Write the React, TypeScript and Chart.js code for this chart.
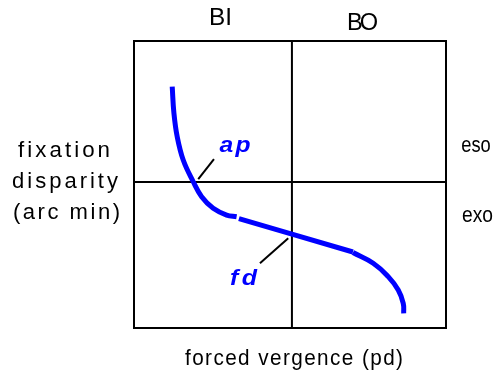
import React, { useEffect, useRef } from "react";
import { Chart, registerables } from "chart.js";

Chart.register(...registerables);

// Fixation disparity curve, forced vergence (pd) vs fixation disparity (arc min)
// Upper (BI) limb of the curve
const vergenceUpper = [-15.54, -15.32, -14.89, -14.11, -12.81, -11.72, -10.22, -8.48, -7.18];
const disparityUpper = [6.76, 4.9, 3.21, 1.56, 0.02, -1.04, -1.86, -2.34, -2.46];
// Central linear section
const vergenceMiddle = [-6.88, 0, 7.92];
const disparityMiddle = [-2.59, -3.69, -4.96];
// Lower (BO) limb of the curve
const vergenceLower = [7.92, 10.55, 12.5, 13.8, 14.45, 14.51];
const disparityLower = [-5.0, -5.76, -6.71, -7.66, -8.6, -9.31];

// Pointer lines for the annotations
const apPointerX = [-12.16, -10.12];
const apPointerY = [0.21, 1.63];
const fdPointerX = [-0.48, -4.15];
const fdPointerY = [-3.99, -5.76];

const prismLabels = ["BI", "BO"];
const disparityLabels = ["eso", "exo"];
const yTitle = ["fixation", "disparity", "(arc min)"];
const xTitle = "forced vergence (pd)";
const curveLabels = ["ap", "fd"];

const BLUE = "#0000ff";
const FONT = '"Liberation Sans", Arial, Helvetica, sans-serif';

const pts = (xs: number[], ys: number[]) => xs.map((x, i) => ({ x, y: ys[i] }));

type TextOpts = { bold?: boolean; italic?: boolean; color?: string; spacing?: number };

function drawText(
  ctx: CanvasRenderingContext2D,
  text: string,
  cx: number,
  baseline: number,
  size: number,
  width: number,
  opts: TextOpts = {}
) {
  const { bold = false, italic = false, color = "#000", spacing = 0 } = opts;
  ctx.save();
  ctx.font = `${italic ? "italic " : ""}${bold ? "bold " : ""}${size}px ${FONT}`;
  (ctx as any).letterSpacing = `${spacing}px`;
  const natural = ctx.measureText(text).width - spacing;
  const sx = natural > 0 ? width / natural : 1;
  ctx.translate(cx - width / 2, baseline);
  ctx.scale(sx, 1);
  ctx.textAlign = "left";
  ctx.textBaseline = "alphabetic";
  ctx.fillStyle = color;
  ctx.fillText(text, 0, 0);
  ctx.restore();
}

// Outer frame plus the two zero lines splitting the plot into quadrants
const quadrantFrame = {
  id: "quadrantFrame",
  beforeDatasetsDraw(chart: any) {
    const { ctx, chartArea: a, scales } = chart;
    const x0 = scales.x.getPixelForValue(0);
    const y0 = scales.y.getPixelForValue(0);
    ctx.save();
    ctx.strokeStyle = "#000";
    ctx.lineWidth = 2;
    ctx.strokeRect(a.left, a.top, a.right - a.left, a.bottom - a.top);
    ctx.beginPath();
    ctx.moveTo(x0, a.top);
    ctx.lineTo(x0, a.bottom);
    ctx.moveTo(a.left, y0);
    ctx.lineTo(a.right, y0);
    ctx.stroke();
    ctx.restore();
  },
};

// Axis captions and curve annotations
const captions = {
  id: "captions",
  afterDraw(chart: any) {
    const ctx: CanvasRenderingContext2D = chart.ctx;
    drawText(ctx, prismLabels[0], 220.5, 25, 23, 23);
    drawText(ctx, prismLabels[1], 362.5, 30, 23, 31, { spacing: -3 });
    drawText(ctx, yTitle[0], 64, 157, 22, 92, { spacing: 3 });
    drawText(ctx, yTitle[1], 65, 188, 22, 106, { spacing: 3 });
    drawText(ctx, yTitle[2], 66.5, 219, 22, 107, { spacing: 2.5 });
    drawText(ctx, disparityLabels[0], 476, 152, 22, 29.5);
    drawText(ctx, disparityLabels[1], 477.5, 222, 22, 31);
    drawText(ctx, xTitle, 294, 365, 22, 218, { spacing: 1.5 });
    drawText(ctx, curveLabels[0], 235, 152, 22, 31, { bold: true, italic: true, color: BLUE, spacing: 2 });
    drawText(ctx, curveLabels[1], 243.5, 285, 22, 27, { bold: true, italic: true, color: BLUE, spacing: 3 });
  },
};

export default function App() {
  const canvasRef = useRef<HTMLCanvasElement | null>(null);

  useEffect(() => {
    const canvas = canvasRef.current;
    if (!canvas) return;
    const curve = {
      borderColor: BLUE,
      borderWidth: 5,
      pointRadius: 0,
      fill: false,
      borderCapStyle: "butt" as const,
      borderJoinStyle: "round" as const,
    };
    const pointer = {
      borderColor: "#000",
      borderWidth: 2,
      pointRadius: 0,
      fill: false,
      tension: 0,
    };
    const chart = new Chart(canvas, {
      type: "line",
      data: {
        datasets: [
          { ...pointer, label: "ap", data: pts(apPointerX, apPointerY) },
          { ...pointer, label: "fd", data: pts(fdPointerX, fdPointerY) },
          { ...curve, label: "upper", data: pts(vergenceUpper, disparityUpper), tension: 0.4 },
          { ...curve, label: "middle", data: pts(vergenceMiddle, disparityMiddle), tension: 0 },
          { ...curve, label: "lower", data: pts(vergenceLower, disparityLower), tension: 0.45 },
        ] as any,
      },
      options: {
        responsive: false,
        animation: false,
        devicePixelRatio: 1,
        layout: { padding: { left: 134, right: 57, top: 41, bottom: 43 } },
        plugins: { legend: { display: false }, tooltip: { enabled: false } },
        scales: {
          x: { type: "linear", min: -20.5, max: 20, display: false },
          y: { type: "linear", min: -10.35, max: 10, display: false },
        },
      },
      plugins: [quadrantFrame, captions],
    });
    return () => chart.destroy();
  }, []);

  return (
    <div style={{ position: "absolute", left: 0, top: 0, width: 503, height: 371, background: "#fff" }}>
      <canvas ref={canvasRef} width={503} height={371} style={{ display: "block" }} />
    </div>
  );
}
